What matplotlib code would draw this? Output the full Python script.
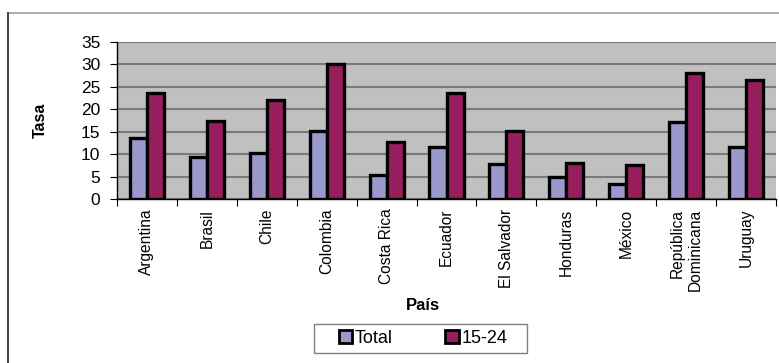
#!/usr/bin/env python3

import matplotlib
matplotlib.use("Agg")
import matplotlib.pyplot as plt
from matplotlib.lines import Line2D
from matplotlib.patches import Rectangle
import numpy as np

paises = ["Argentina", "Brasil", "Chile", "Colombia", "Costa Rica", "Ecuador",
          "El Salvador", "Honduras", "México", "República\nDominicana", "Uruguay"]
total = [13.5, 9.4, 10.2, 15.2, 5.4, 11.7, 7.8, 4.9, 3.3, 17.2, 11.5]
jovenes = [23.7, 17.4, 22.1, 30.1, 12.7, 23.6, 15.2, 8.1, 7.6, 28.0, 26.5]
series_labels = ["Total", "15-24"]
yticks = [0, 5, 10, 15, 20, 25, 30, 35]

plt.rcParams['font.family'] = ['Liberation Sans', 'DejaVu Sans']
plt.rcParams['font.size'] = 11

W, H = 779, 363
fig = plt.figure(figsize=(W / 100, H / 100), dpi=100)
ax = fig.add_axes([117 / W, 1 - 199 / H, (776 - 117) / W, (199 - 42) / H])

x = np.arange(len(paises))
bw = 0.285
ax.bar(x - bw / 2, total, bw, color="#9999CC", edgecolor="black",
       linewidth=2.4, label=series_labels[0], zorder=3)
ax.bar(x + bw / 2, jovenes, bw, color="#991E5E", edgecolor="black",
       linewidth=2.4, label=series_labels[1], zorder=3)

ax.set_facecolor("#C0C0C0")
ax.set_xlim(-0.5, len(paises) - 0.5)
ax.set_ylim(0, 35)
ax.set_yticks(yticks)
ax.yaxis.grid(True, color="#7A7A7A", linewidth=1.5, zorder=1)
ax.set_axisbelow(True)
for s in ("top", "right"):
    ax.spines[s].set_visible(False)
ax.spines["left"].set_linewidth(1.0)
ax.spines["bottom"].set_linewidth(1.0)

# ticks between categories, labels at category centers
ax.set_xticks(np.arange(len(paises) + 1) - 0.5)
ax.set_xticklabels([])
ax.set_xticks(x, minor=True)
ax.set_xticklabels(paises, minor=True, rotation=90, va="top", ha="center",
                   multialignment="right", fontsize=11.2)
ax.tick_params(axis="x", which="minor", length=0, pad=7)
ax.tick_params(axis="x", which="major", length=5, direction="out")
ax.tick_params(axis="y", length=5, direction="out", pad=7, labelsize=12.5)

fig.text(40 / W, 1 - 120 / H, "Tasa", rotation=90, ha="center", va="center",
         fontsize=11.5, fontweight="bold")
fig.text(423 / W, 1 - 306 / H, "País", ha="center", va="center",
         fontsize=12, fontweight="bold")

# legend entries without frame, box drawn separately
leg = fig.legend(loc="center", bbox_to_anchor=(423 / W, 1 - 338.5 / H),
                 ncol=2, frameon=False,
                 handlelength=0.75, handleheight=0.75, handletextpad=0.15,
                 columnspacing=2.9, borderpad=0, borderaxespad=0,
                 fontsize=13)
for p in leg.get_patches():
    p.set_linewidth(2.0)
fig.add_artist(Rectangle((314 / W, 1 - 353 / H), (527 - 314) / W, 29 / H,
                         transform=fig.transFigure, fill=False,
                         edgecolor="#808080", linewidth=1.0))

# outer chart frame
fig.add_artist(Line2D([8 / W, 1], [1 - 12.5 / H, 1 - 12.5 / H],
                      color="#A0A0A0", linewidth=1.2, transform=fig.transFigure))
fig.add_artist(Line2D([8 / W, 8 / W], [1 - 12.5 / H, 0],
                      color="#202020", linewidth=1.2, transform=fig.transFigure))

fig.savefig("out.png", dpi=100)
